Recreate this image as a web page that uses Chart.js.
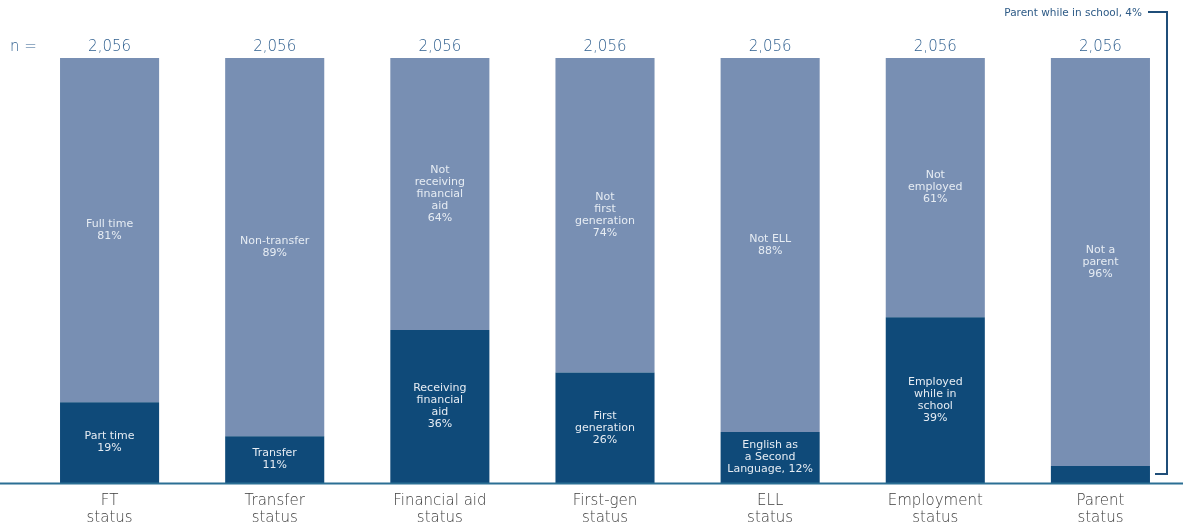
<!DOCTYPE html>
<html>
<head>
<meta charset="utf-8">
<script src="https://cdn.jsdelivr.net/npm/chart.js@4"></script>
<style>
  html, body { margin: 0; padding: 0; background: #fff; }
  #wrap { position: relative; width: 1183px; height: 529px; }
</style>
</head>
<body>
<div id="wrap"><canvas id="statusChart" width="1183" height="529"></canvas></div>
<script>
// categories (two-line axis labels)
const categories = [
    ['FT', 'status'],
    ['Transfer', 'status'],
    ['Financial aid', 'status'],
    ['First-gen', 'status'],
    ['ELL', 'status'],
    ['Employment', 'status'],
    ['Parent', 'status']
];
const sampleSizes = ['2,056', '2,056', '2,056', '2,056', '2,056', '2,056', '2,056'];

// bottom (dark) and top (light) shares in percent
const bottomShares = [19, 11, 36, 26, 12, 39, 4];
const topShares = [81, 89, 64, 74, 88, 61, 96];

const bottomLabels = [
    ['Part time', '19%'],
    ['Transfer', '11%'],
    ['Receiving', 'financial', 'aid', '36%'],
    ['First', 'generation', '26%'],
    ['English as', 'a Second', 'Language, 12%'],
    ['Employed', 'while in', 'school', '39%'],
    []
];
const topLabels = [
    ['Full time', '81%'],
    ['Non-transfer', '89%'],
    ['Not', 'receiving', 'financial', 'aid', '64%'],
    ['Not', 'first', 'generation', '74%'],
    ['Not ELL', '88%'],
    ['Not', 'employed', '61%'],
    ['Not a', 'parent', '96%']
];
const calloutText = 'Parent while in school, 4%';

const FONT = '"DejaVu Sans", sans-serif';
const ctx = document.getElementById('statusChart').getContext('2d');

// Beschriftungen in den Balken, n-Werte, Achsenlinie und Klammer
const overlayPlugin = {
    id: 'overlay',
    afterDatasetsDraw(chart) {
        const c = chart.ctx;
        const area = chart.chartArea;
        const labelSets = [bottomLabels, topLabels];
        c.save();
        c.textAlign = 'center';
        c.textBaseline = 'middle';
        c.font = '11px ' + FONT;
        c.fillStyle = '#e6ecf3';
        chart.data.datasets.forEach((ds, di) => {
            const meta = chart.getDatasetMeta(di);
            meta.data.forEach((bar, i) => {
                const lines = labelSets[di][i];
                if (!lines.length) return;
                const mid = (bar.y + bar.base) / 2;
                const lh = 12;
                const start = mid - (lines.length - 1) * lh / 2;
                lines.forEach((t, k) => c.fillText(t, bar.x, start + k * lh));
            });
        });

        // n = row
        c.font = '200 15px ' + FONT;
        c.fillStyle = '#2f5f8f';
        c.textAlign = 'left';
        c.fillText('n =', 10, 47);
        c.textAlign = 'center';
        const meta0 = chart.getDatasetMeta(0);
        meta0.data.forEach((bar, i) => c.fillText(sampleSizes[i], bar.x, 47));

        // baseline across the full width
        c.strokeStyle = '#2b6f94';
        c.lineWidth = 2;
        c.beginPath();
        c.moveTo(0, area.bottom + 0.5);
        c.lineTo(chart.width, area.bottom + 0.5);
        c.stroke();

        // bracket for the parent share
        const lastBar = meta0.data[meta0.data.length - 1];
        const bx = 1167;
        c.strokeStyle = '#1f4e79';
        c.lineWidth = 2;
        c.beginPath();
        c.moveTo(1148, 12);
        c.lineTo(bx, 12);
        c.lineTo(bx, lastBar.y + 8);
        c.lineTo(1155, lastBar.y + 8);
        c.stroke();
        c.font = '10.5px ' + FONT;
        c.fillStyle = '#2d5a86';
        c.textAlign = 'right';
        c.fillText(calloutText, 1142, 13);
        c.restore();
    }
};

const config = {
    type: 'bar',
    data: {
        labels: categories,
        datasets: [
            {
                label: 'bottom',
                data: bottomShares,
                backgroundColor: '#0f4a79',
                borderWidth: 0,
                barPercentage: 0.6,
                categoryPercentage: 1.0
            },
            {
                label: 'top',
                data: topShares,
                backgroundColor: '#788fb3',
                borderWidth: 0,
                barPercentage: 0.6,
                categoryPercentage: 1.0
            }
        ]
    },
    options: {
        responsive: false,
        animation: false,
        layout: { padding: { top: 58, left: 27, right: 0, bottom: 0 } },
        plugins: {
            legend: { display: false },
            tooltip: { enabled: false }
        },
        scales: {
            x: {
                stacked: true,
                grid: { display: false, drawTicks: false },
                border: { display: false },
                ticks: {
                    color: '#3c3c3c',
                    font: { family: FONT, size: 15, weight: 200, lineHeight: 1.13 },
                    padding: 10,
                    maxRotation: 0,
                    autoSkip: false
                },
                afterFit(scale) { scale.height = 46; }
            },
            y: {
                stacked: true,
                display: false,
                min: 0,
                max: 100
            }
        }
    },
    plugins: [overlayPlugin]
};

const statusChart = new Chart(ctx, config);
</script>
</body>
</html>
